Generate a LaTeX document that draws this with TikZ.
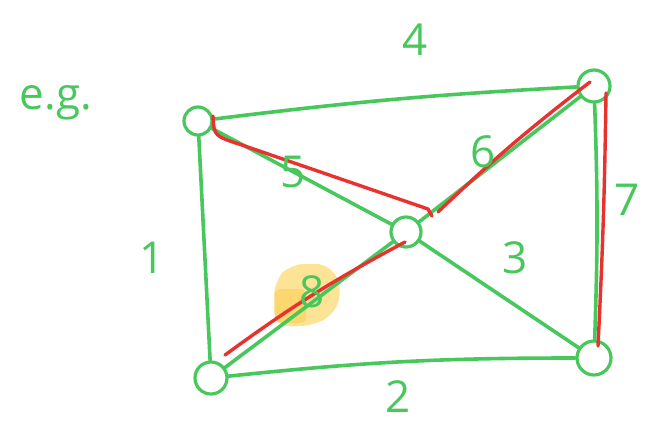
\documentclass[tikz,border=0pt]{standalone}
\usepackage{fontspec}
\setmainfont{Open Sans}
\definecolor{pen}{RGB}{72,200,92}
\definecolor{redpen}{RGB}{232,50,47}
\definecolor{hl}{RGB}{253,227,150}
\definecolor{hldark}{RGB}{252,214,110}
\begin{document}
\begin{tikzpicture}[x=1pt,y=-1pt,
  vert/.style={circle,draw=pen,line width=3.2pt,minimum size=28pt,inner sep=0pt},
  edge/.style={draw=pen,line width=3.6pt,line cap=round},
  redp/.style={draw=redpen,line width=3.4pt,line cap=round,line join=round},
  lbl/.style={text=pen,font=\fontsize{44}{44}\selectfont}]
\useasboundingbox (0,0) rectangle (658,424);
\fill[white] (0,0) rectangle (658,424);
% highlight
\fill[hl,rounded corners=14pt] (274,282) -- (290,264) -- (330,264) -- (343,290) -- (332,318) -- (300,328) -- (274,324) -- cycle;
\fill[hldark,rounded corners=6pt] (275,289) rectangle (306,323);
% vertices
\node[vert] (A) at (198,121) {};
\node[vert,minimum size=32pt] (B) at (594,86) {};
\node[vert,minimum size=30pt] (C) at (406,232) {};
\node[vert,minimum size=32pt] (D) at (211,378) {};
\node[vert,minimum size=34pt] (E) at (594,358) {};
% edges
\draw[edge] (A) to[bend left=2] (B);
\draw[edge] (A) -- (D);
\draw[edge] (D) to[bend left=3] (E);
\draw[edge] (B) to[bend left=2] (E);
\draw[edge] (A) -- (C);
\draw[edge] (C) -- (B);
\draw[edge] (C) -- (E);
\draw[edge] (D) -- (C);
% red path
\coordinate (r1) at (213,116);
\coordinate (r2) at (242,145);
\coordinate (r3) at (428,209);
\coordinate (r4) at (432,216);
\coordinate (r5) at (438,212);
\coordinate (r6) at (590,82);
\coordinate (r7) at (606,93);
\coordinate (r8) at (598,346);
\coordinate (r9) at (225,355);
\coordinate (r10) at (405,242);
\draw[redp] (r1) .. controls (214,136) .. (r2) -- (r3) -- (r4);
\draw[redp] (r5) to[bend left=3] (r6);
\draw[redp] (r7) to[bend left=1] (r8);
\draw[redp] (r9) to[bend left=4] (r10);
% labels
\node[lbl] (l4) at (415,40) {4};
\node[lbl] (l6) at (483,152) {6};
\node[lbl] (l7) at (627,200) {7};
\node[lbl] (l5) at (293,172) {5};
\node[lbl] (l3) at (515,258) {3};
\node[lbl] (l1) at (152,258) {1};
\node[lbl] (l8) at (312,292) {8};
\node[lbl] (l2) at (398,397) {2};
\node[lbl] (eg) at (56,103) {e.g.};
\end{tikzpicture}
\end{document}
